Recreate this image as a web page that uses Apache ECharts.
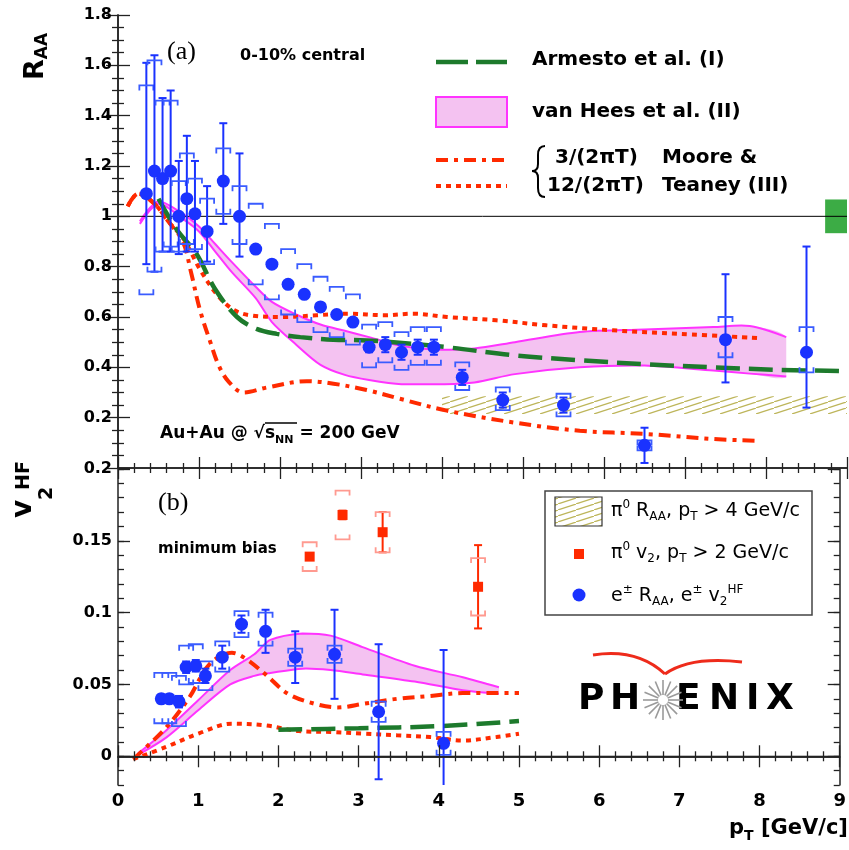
<!DOCTYPE html>
<html lang="en">
<head>
<meta charset="UTF-8">
<title>Heavy flavour electrons: RAA and v2</title>
<style>
  * { margin: 0; padding: 0; }
  #chart-container { width: 849px; height: 850px; background: #fff; }
</style>
</head>
<body>
<div id="chart-container"></div>
<script src="https://cdn.jsdelivr.net/npm/echarts@6.0.0/dist/echarts.min.js"></script>
<script>
// ---- values ----
const xMin = 0, xMax = 9;
const raaMin = 0, raaMax = 1.8;
const v2Min = -0.02, v2Max = 0.2;
const v2Ticks = [0, 0.05, 0.1, 0.15, 0.2];

// (a) heavy flavour electron R_AA, 0-10% central
const raaPt     = [0.35, 0.45, 0.55, 0.65, 0.75, 0.85, 0.95, 1.1, 1.3, 1.5, 1.7, 1.9, 2.1, 2.3, 2.5, 2.7, 2.9, 3.1, 3.3, 3.5, 3.7, 3.9, 4.25, 4.75, 5.5, 6.5, 7.5, 8.5];
const raaVal    = [1.09, 1.18, 1.15, 1.18, 1.00, 1.07, 1.01, 0.94, 1.14, 1.00, 0.87, 0.81, 0.73, 0.69, 0.64, 0.61, 0.58, 0.48, 0.49, 0.46, 0.48, 0.48, 0.36, 0.27, 0.25, 0.09, 0.51, 0.46];
const raaStatUp = [0.52, 0.46, 0.32, 0.32, 0.22, 0.25, 0.21, 0.18, 0.23, 0.25, 0.01, 0.01, 0.01, 0.01, 0.01, 0.01, 0.01, 0.02, 0.03, 0.03, 0.03, 0.03, 0.03, 0.03, 0.03, 0.07, 0.26, 0.42];
const raaStatDn = [0.28, 0.40, 0.29, 0.32, 0.15, 0.21, 0.15, 0.12, 0.17, 0.16, 0.01, 0.01, 0.01, 0.01, 0.01, 0.01, 0.01, 0.02, 0.03, 0.03, 0.03, 0.03, 0.03, 0.03, 0.03, 0.07, 0.17, 0.22];
const raaSysUp  = [0.43, 0.44, 0.31, 0.28, 0.14, 0.18, 0.14, 0.13, 0.13, 0.12, 0.18, 0.16, 0.14, 0.12, 0.12, 0.11, 0.11, 0.09, 0.09, 0.08, 0.08, 0.08, 0.06, 0.05, 0.045, 0.02, 0.09, 0.10];
const raaSysDn  = [0.40, 0.40, 0.29, 0.30, 0.14, 0.18, 0.14, 0.13, 0.13, 0.11, 0.14, 0.14, 0.12, 0.11, 0.10, 0.09, 0.09, 0.08, 0.07, 0.07, 0.07, 0.07, 0.05, 0.04, 0.045, 0.02, 0.07, 0.08];
const raaRef = 1;
const raaNormUnc = 0.067, raaNormPt = 8.73;

// pi0 R_AA band, pT > 4 GeV/c
const pi0RaaPt = [4, 9];
const pi0RaaLo = 0.215, pi0RaaHi = 0.285;

// model curves, R_AA
const armRaaPt = [0.5, 0.72, 0.97, 1.2, 1.47, 1.71, 1.96, 2.25, 2.66, 3.07, 3.4, 4.06, 4.88, 5.7, 6.53, 7.35, 8.17, 9.0];
const armRaa   = [1.07, 0.95, 0.85, 0.71, 0.60, 0.553, 0.533, 0.52, 0.51, 0.507, 0.50, 0.48, 0.448, 0.428, 0.412, 0.40, 0.39, 0.385];
const vhRaaPt  = [0.27, 0.5, 0.8, 1.0, 1.2, 1.4, 1.7, 1.9, 2.2, 2.5, 2.8, 3.1, 3.5, 4.0, 4.4, 4.9, 5.7, 6.5, 7.35, 7.8, 8.25];
const vhRaaHi  = [0.98, 1.06, 1.01, 0.96, 0.89, 0.82, 0.72, 0.66, 0.61, 0.57, 0.545, 0.52, 0.485, 0.47, 0.475, 0.50, 0.54, 0.55, 0.56, 0.564, 0.52];
const vhRaaLo  = [0.97, 1.05, 0.99, 0.94, 0.86, 0.78, 0.675, 0.58, 0.49, 0.41, 0.37, 0.35, 0.333, 0.333, 0.34, 0.373, 0.40, 0.407, 0.387, 0.375, 0.364];
const mt3RaaPt = [0.12, 0.25, 0.45, 0.62, 0.8, 0.9, 1.01, 1.14, 1.24, 1.36, 1.55, 1.84, 2.33, 2.66, 3.07, 3.48, 4.06, 4.88, 5.7, 6.53, 7.35, 7.93];
const mt3Raa   = [1.04, 1.09, 1.05, 0.98, 0.90, 0.78, 0.63, 0.50, 0.41, 0.345, 0.30, 0.32, 0.345, 0.335, 0.31, 0.275, 0.228, 0.181, 0.148, 0.135, 0.115, 0.108];
const mt12RaaPt = [0.12, 0.25, 0.45, 0.62, 0.81, 1.01, 1.22, 1.42, 1.63, 2.04, 2.45, 2.86, 3.28, 3.64, 4.06, 4.67, 5.29, 6.11, 6.94, 7.93];
const mt12Raa   = [1.04, 1.09, 1.05, 0.98, 0.91, 0.79, 0.69, 0.63, 0.607, 0.60, 0.607, 0.613, 0.607, 0.613, 0.60, 0.587, 0.567, 0.547, 0.533, 0.516];

// (b) heavy flavour electron v2, minimum bias
const v2Pt    = [0.54, 0.64, 0.76, 0.85, 0.97, 1.09, 1.30, 1.54, 1.84, 2.21, 2.70, 3.25, 4.06];
const v2Val   = [0.040, 0.040, 0.038, 0.062, 0.063, 0.056, 0.069, 0.092, 0.087, 0.069, 0.071, 0.031, 0.009];
const v2Stat  = [0.003, 0.003, 0.004, 0.004, 0.004, 0.005, 0.008, 0.006, 0.015, 0.018, 0.031, 0.047, 0.065];
const v2SysUp = [0.018, 0.018, 0.018, 0.015, 0.015, 0.010, 0.011, 0.009, 0.013, 0.006, 0.006, 0.007, 0.008];
const v2SysDn = [0.017, 0.017, 0.017, 0.012, 0.012, 0.010, 0.010, 0.009, 0.010, 0.006, 0.006, 0.007, 0.008];
const v2Ref = 0;

// pi0 v2, pT > 2 GeV/c
const pi0V2Pt   = [2.39, 2.80, 3.30, 4.49];
const pi0V2Val  = [0.139, 0.168, 0.156, 0.118];
const pi0V2Stat = [0.002, 0.003, 0.014, 0.029];
const pi0V2Sys  = [0.010, 0.017, 0.014, 0.020];

// model curves, v2
const armV2Pt = [2.0, 3.0, 4.0, 5.0];
const armV2   = [0.0185, 0.0195, 0.021, 0.0245];
const vhV2Pt  = [0.25, 0.6, 1.0, 1.4, 1.7, 1.9, 2.3, 2.65, 3.05, 3.7, 4.3, 4.75];
const vhV2Hi  = [0.002, 0.018, 0.039, 0.060, 0.071, 0.081, 0.0855, 0.084, 0.076, 0.063, 0.055, 0.048];
const vhV2Lo  = [0.001, 0.013, 0.032, 0.050, 0.056, 0.058, 0.061, 0.060, 0.057, 0.052, 0.046, 0.0435];
const mt3V2Pt = [0.19, 0.6, 0.89, 1.14, 1.42, 1.59, 1.84, 2.12, 2.45, 2.74, 3.07, 3.48, 3.89, 4.3, 5.0];
const mt3V2   = [-0.002, 0.020, 0.041, 0.064, 0.072, 0.068, 0.057, 0.0435, 0.0366, 0.034, 0.0366, 0.040, 0.042, 0.044, 0.044];
const mt12V2Pt = [0.19, 0.6, 1.01, 1.42, 1.84, 2.25, 2.66, 3.07, 3.48, 3.89, 4.3, 4.72, 5.0];
const mt12V2   = [-0.002, 0.0065, 0.016, 0.0227, 0.0215, 0.0176, 0.0169, 0.0157, 0.0146, 0.0134, 0.011, 0.0134, 0.0157];

// ---- styles ----
const SANS = 'DejaVu Sans';
const BLUE = '#1a32ff', BLUE_SYS = '#3a5cff';
const RED = '#ff2a00', RED_SYS = '#ff9a90';
const GREEN = '#1d7a2c', MAGENTA = '#ff33ff', PINK = '#f4c2f1';
const FRAME = '#222';
const DASH_ARM = [24, 9], DASH_DOTDASH = [12, 6, 4, 6], DASH_DOT = [5, 5];

// diagonal hatch used for the pi0 R_AA band
const hatch = document.createElement('canvas');
hatch.width = 18; hatch.height = 6;
(function () {
  const c = hatch.getContext('2d');
  c.strokeStyle = '#bdb55a';
  c.lineWidth = 1.2;
  c.beginPath();
  c.moveTo(-18, 12); c.lineTo(36, -6);
  c.stroke();
})();
const hatchFill = { image: hatch, repeat: 'repeat' };

const pairs = (xs, ys) => xs.map((x, i) => [x, ys[i]]);

function errorRender(color, sysColor) {
  return function (params, api) {
    const x = api.value(0), y = api.value(1);
    const p = api.coord([x, y]);
    const tu = api.coord([x, y + api.value(2)])[1];
    const td = api.coord([x, y - api.value(3)])[1];
    const su = api.coord([x, y + api.value(4)])[1];
    const sd = api.coord([x, y - api.value(5)])[1];
    const cx = p[0], cap = 4, bw = 7, leg = 5;
    const st = { stroke: color, lineWidth: 2 };
    const ss = { stroke: sysColor, lineWidth: 1.8, fill: null };
    return {
      type: 'group',
      children: [
        { type: 'line', shape: { x1: cx, y1: tu, x2: cx, y2: td }, style: st },
        { type: 'line', shape: { x1: cx - cap, y1: tu, x2: cx + cap, y2: tu }, style: st },
        { type: 'line', shape: { x1: cx - cap, y1: td, x2: cx + cap, y2: td }, style: st },
        { type: 'polyline', shape: { points: [[cx - bw, su + leg], [cx - bw, su], [cx + bw, su], [cx + bw, su + leg]] }, style: ss },
        { type: 'polyline', shape: { points: [[cx - bw, sd - leg], [cx - bw, sd], [cx + bw, sd], [cx + bw, sd - leg]] }, style: ss }
      ]
    };
  };
}

function boxRender(fill) {
  return function (params, api) {
    const a = api.coord([api.value(0), api.value(3)]);
    const b = api.coord([api.value(1), api.value(2)]);
    return {
      type: 'rect',
      shape: { x: a[0], y: a[1], width: b[0] - a[0], height: b[1] - a[1] },
      style: { fill: fill }
    };
  };
}

// van Hees band: one filled polygon plus its two edges, built on the first item
function bandRender(params, api) {
  if (params.dataIndexInside !== 0) return;
  const n = params.dataInsideLength;
  const lo = [], hi = [];
  for (let i = 0; i < n; i++) {
    lo.push(api.coord([api.value(0, i), api.value(1, i)]));
    hi.push(api.coord([api.value(0, i), api.value(2, i)]));
  }
  const all = hi.concat(lo);
  const box = [
    [Math.min(...all.map(p => p[0])), Math.min(...all.map(p => p[1]))],
    [Math.max(...all.map(p => p[0])), Math.max(...all.map(p => p[1]))]
  ];
  const edge = { stroke: MAGENTA, lineWidth: 2, fill: null };
  return {
    type: 'group',
    children: [
      { type: 'polygon', shape: { points: hi.concat(lo.slice().reverse()), smooth: 0.3, smoothConstraint: box }, style: { fill: PINK } },
      { type: 'polyline', shape: { points: hi, smooth: 0.3, smoothConstraint: box }, style: edge },
      { type: 'polyline', shape: { points: lo, smooth: 0.3, smoothConstraint: box }, style: edge }
    ]
  };
}
function band(g, xs, lo, hi) {
  return {
    type: 'custom', xAxisIndex: g * 2, yAxisIndex: g === 0 ? 0 : 2, z: 3, silent: true, clip: true,
    encode: { x: 0, y: [1, 2] }, renderItem: bandRender,
    data: xs.map((x, i) => [x, lo[i], hi[i]])
  };
}

function curve(g, xs, ys, color, dash, width) {
  return {
    type: 'line', xAxisIndex: g * 2, yAxisIndex: g === 0 ? 0 : 2,
    data: pairs(xs, ys), symbol: 'none', smooth: 0.35, z: 4, silent: true,
    lineStyle: { color: color, type: dash, width: width, cap: 'butt' }
  };
}

// ---- axes ----
const tickStyle = { color: FRAME, width: 1.3 };
function xAx(g, pos, labels) {
  return {
    type: 'value', gridIndex: g, position: pos, min: xMin, max: xMax, interval: 1, z: 10,
    axisLine: { lineStyle: { color: FRAME, width: 1.5 } },
    axisTick: { inside: true, length: 11, lineStyle: tickStyle },
    minorTick: { show: true, splitNumber: 5, length: 5, lineStyle: tickStyle },
    splitLine: { show: false },
    axisLabel: labels ? { margin: 7, fontFamily: SANS, fontWeight: 'bold', fontSize: 18, color: '#000' } : { show: false }
  };
}
const yAxes = [
  {
    type: 'value', gridIndex: 0, position: 'left', min: raaMin, max: raaMax, interval: 0.2, z: 10,
    axisLine: { lineStyle: { color: FRAME, width: 1.5 } },
    axisTick: { inside: true, length: 12, lineStyle: tickStyle },
    minorTick: { show: true, splitNumber: 4, length: 6, lineStyle: tickStyle },
    splitLine: { show: false },
    axisLabel: { margin: 6, fontFamily: SANS, fontWeight: 'bold', fontSize: 16, color: '#000',
      formatter: v => (v === 0 ? '' : String(+v.toFixed(2))) }
  },
  {
    type: 'value', gridIndex: 0, position: 'right', min: raaMin, max: raaMax, interval: 0.2, z: 10,
    axisLine: { lineStyle: { color: FRAME, width: 1.5 } },
    axisTick: { inside: true, length: 12, lineStyle: tickStyle },
    minorTick: { show: true, splitNumber: 4, length: 6, lineStyle: tickStyle },
    splitLine: { show: false }, axisLabel: { show: false }
  },
  {
    type: 'value', gridIndex: 1, position: 'left', min: v2Min, max: v2Max, interval: 0.01, z: 10,
    axisLine: { lineStyle: { color: FRAME, width: 1.5 } },
    axisTick: { inside: true, length: 6, lineStyle: tickStyle },
    splitLine: { show: false }, axisLabel: { show: false }
  },
  {
    type: 'value', gridIndex: 1, position: 'left', min: v2Min, max: v2Max, z: 10,
    axisLine: { show: false },
    axisTick: { inside: true, length: 12, lineStyle: tickStyle, customValues: v2Ticks },
    splitLine: { show: false },
    axisLabel: { margin: 6, fontFamily: SANS, fontWeight: 'bold', fontSize: 16, color: '#000', customValues: v2Ticks }
  },
  {
    type: 'value', gridIndex: 1, position: 'right', min: v2Min, max: v2Max, interval: 0.01, z: 10,
    axisLine: { lineStyle: { color: FRAME, width: 1.5 } },
    axisTick: { inside: true, length: 6, lineStyle: tickStyle },
    splitLine: { show: false }, axisLabel: { show: false }
  },
  {
    type: 'value', gridIndex: 1, position: 'right', min: v2Min, max: v2Max, z: 10,
    axisLine: { show: false },
    axisTick: { inside: true, length: 12, lineStyle: tickStyle, customValues: v2Ticks },
    splitLine: { show: false }, axisLabel: { show: false }
  }
];

// ---- graphic: legends, labels, logo ----
function txt(x, y, text, size, opts) {
  return {
    type: 'text', x: x, y: y, z: 20,
    style: Object.assign({
      text: text, fill: '#000', fontFamily: SANS, fontSize: size, fontWeight: 'bold',
      align: 'left', verticalAlign: 'middle', textAlign: 'left', textVerticalAlign: 'middle'
    }, opts || {})
  };
}
function rot(el) { el.rotation = Math.PI / 2; return el; }
function seg(x1, y1, x2, y2, stroke, width, dash) {
  return { type: 'line', z: 20, shape: { x1, y1, x2, y2 }, style: { stroke, lineWidth: width, lineDash: dash || null } };
}
function quad(x1, y1, cx, cy, x2, y2, stroke, width) {
  return { type: 'bezierCurve', z: 20, shape: { x1, y1, cpx1: cx, cpy1: cy, x2, y2 }, style: { stroke, lineWidth: width, fill: null } };
}
const subSup = (size, weight) => ({
  sub: { fontFamily: SANS, fontWeight: weight, fontSize: size, lineHeight: size, verticalAlign: 'bottom' },
  sup: { fontFamily: SANS, fontWeight: weight, fontSize: size, lineHeight: size, verticalAlign: 'top' }
});

const graphics = [
  // panel labels
  txt(167, 52, '(a)', 26, { fontFamily: 'Liberation Serif', fontWeight: 'normal' }),
  txt(240, 56, '0-10% central', 16),
  txt(160, 434, 'Au+Au @ √s{sub|NN} = 200 GeV', 17, { lineHeight: 24, rich: subSup(11, 'bold') }),
  seg(265, 423, 297, 423, '#000', 1.5),
  txt(158, 503, '(b)', 26, { fontFamily: 'Liberation Serif', fontWeight: 'normal' }),
  txt(158, 549, 'minimum bias', 15),

  // legend (a)
  seg(436, 62, 507, 62, GREEN, 4.5, [32, 8]),
  txt(532, 60, 'Armesto et al. (I)', 20),
  { type: 'rect', z: 20, shape: { x: 436, y: 97, width: 71, height: 30 }, style: { fill: PINK, stroke: MAGENTA, lineWidth: 2 } },
  txt(532, 112, 'van Hees et al. (II)', 20),
  seg(436, 160, 507, 160, RED, 4, DASH_DOTDASH),
  seg(436, 186, 507, 186, RED, 4, DASH_DOT),
  quad(545, 146, 538, 146, 538, 155, '#000', 2),
  seg(538, 155, 538, 164, '#000', 2),
  quad(538, 164, 538, 171, 532, 171, '#000', 2),
  quad(532, 171, 538, 171, 538, 178, '#000', 2),
  seg(538, 178, 538, 188, '#000', 2),
  quad(538, 188, 538, 197, 545, 197, '#000', 2),
  txt(555, 158, '3/(2πT)', 20),
  txt(547, 186, '12/(2πT)', 20),
  txt(662, 158, 'Moore &', 20),
  txt(662, 186, 'Teaney (III)', 20),

  // legend (b)
  { type: 'rect', z: 20, shape: { x: 545, y: 491, width: 267, height: 124 }, style: { fill: '#fff', stroke: '#444', lineWidth: 1.5 } },
  { type: 'rect', z: 21, shape: { x: 555, y: 497, width: 47, height: 29 }, style: { fill: hatchFill, stroke: '#333', lineWidth: 1.2 } },
  txt(611, 511, 'π{sup|0} R{sub|AA}, p{sub|T} > 4 GeV/c', 19, { fontWeight: 'normal', lineHeight: 24, rich: subSup(12, 'normal') }),
  { type: 'rect', z: 21, shape: { x: 574, y: 549, width: 10, height: 10 }, style: { fill: RED } },
  txt(611, 553, 'π{sup|0} v{sub|2}, p{sub|T} > 2 GeV/c', 19, { fontWeight: 'normal', lineHeight: 24, rich: subSup(12, 'normal') }),
  { type: 'circle', z: 21, shape: { cx: 579, cy: 595, r: 6.5 }, style: { fill: BLUE } },
  txt(611, 596, 'e{sup|±} R{sub|AA}, e{sup|±} v{sub|2}{sup|HF}', 19, { fontWeight: 'normal', lineHeight: 24, rich: subSup(12, 'normal') }),

  // axis titles
  rot(txt(36, 80, 'R{sub|AA}', 27, { lineHeight: 30, rich: subSup(17, 'bold') })),
  txt(729, 829, 'p{sub|T} [GeV/c]', 21, { lineHeight: 28, rich: subSup(14, 'bold') }),
  rot(txt(24, 518, 'v', 28)),
  rot(txt(47, 500, '2', 19)),
  rot(txt(24, 490, 'HF', 19)),

  // PHENIX logo
  quad(593, 655, 637, 648, 665, 674, '#ee2b1b', 3),
  quad(665, 674, 690, 656, 742, 662, '#ee2b1b', 3),
  txt(578, 700, 'P', 36),
  txt(610, 700, 'H', 36),
  txt(676, 700, 'E', 36),
  txt(709, 700, 'N', 36),
  txt(746, 700, 'I', 36),
  txt(766, 700, 'X', 36)
];
for (let a = 0; a < 16; a++) {
  const t = a * Math.PI / 8;
  graphics.push(seg(663 + 5 * Math.cos(t), 700 + 5 * Math.sin(t), 663 + 20 * Math.cos(t), 700 + 20 * Math.sin(t), '#9a9a9a', 1.6));
}

// ---- chart ----
const myChart = echarts.init(document.getElementById('chart-container'), null, { renderer: 'canvas' });

const option = {
  animation: false,
  backgroundColor: '#fff',
  grid: [
    { left: 118, right: 2, top: 15, height: 453 },
    { left: 118, right: 2, top: 469, height: 316 }
  ],
  xAxis: [xAx(0, 'bottom', false), xAx(0, 'top', false), xAx(1, 'bottom', true), xAx(1, 'top', false)],
  yAxis: yAxes,
  series: [
    band(0, vhRaaPt, vhRaaLo, vhRaaHi),
    band(1, vhV2Pt, vhV2Lo, vhV2Hi),
    // pi0 R_AA hatched band and normalisation box
    { type: 'custom', xAxisIndex: 0, yAxisIndex: 0, z: 3, silent: true, clip: true,
      renderItem: boxRender(hatchFill), data: [[pi0RaaPt[0], pi0RaaPt[1], pi0RaaLo, pi0RaaHi]] },
    { type: 'custom', xAxisIndex: 0, yAxisIndex: 0, z: 3, silent: true, clip: true,
      renderItem: boxRender('#3cac45'), data: [[raaNormPt, xMax, raaRef - raaNormUnc, raaRef + raaNormUnc]] },
    // reference lines
    { type: 'line', xAxisIndex: 0, yAxisIndex: 0, z: 3, symbol: 'none', silent: true, data: [[xMin, raaRef], [xMax, raaRef]],
      lineStyle: { color: '#000', width: 1 } },
    { type: 'line', xAxisIndex: 2, yAxisIndex: 2, z: 3, symbol: 'none', silent: true, data: [[xMin, v2Ref], [xMax, v2Ref]],
      lineStyle: { color: '#000', width: 1.2 } },
    // model curves
    curve(0, mt3RaaPt, mt3Raa, RED, DASH_DOTDASH, 4),
    curve(0, mt12RaaPt, mt12Raa, RED, DASH_DOT, 4),
    curve(1, mt3V2Pt, mt3V2, RED, DASH_DOTDASH, 4),
    curve(1, mt12V2Pt, mt12V2, RED, DASH_DOT, 4),
    curve(0, armRaaPt, armRaa, GREEN, DASH_ARM, 4.5),
    curve(1, armV2Pt, armV2, GREEN, DASH_ARM, 4.5),
    // error bars
    { type: 'custom', xAxisIndex: 0, yAxisIndex: 0, z: 5, silent: true, clip: true,
      renderItem: errorRender(BLUE, BLUE_SYS),
      data: raaPt.map((x, i) => [x, raaVal[i], raaStatUp[i], raaStatDn[i], raaSysUp[i], raaSysDn[i]]) },
    { type: 'custom', xAxisIndex: 2, yAxisIndex: 2, z: 5, silent: true, clip: true,
      renderItem: errorRender(BLUE, BLUE_SYS),
      data: v2Pt.map((x, i) => [x, v2Val[i], v2Stat[i], v2Stat[i], v2SysUp[i], v2SysDn[i]]) },
    { type: 'custom', xAxisIndex: 2, yAxisIndex: 2, z: 5, silent: true, clip: true,
      renderItem: errorRender(RED, RED_SYS),
      data: pi0V2Pt.map((x, i) => [x, pi0V2Val[i], pi0V2Stat[i], pi0V2Stat[i], pi0V2Sys[i], pi0V2Sys[i]]) },
    // markers
    { type: 'scatter', xAxisIndex: 0, yAxisIndex: 0, z: 6, symbol: 'circle', symbolSize: 13, silent: true,
      itemStyle: { color: BLUE, opacity: 1 }, data: pairs(raaPt, raaVal) },
    { type: 'scatter', xAxisIndex: 2, yAxisIndex: 2, z: 6, symbol: 'circle', symbolSize: 13, silent: true,
      itemStyle: { color: BLUE, opacity: 1 }, data: pairs(v2Pt, v2Val) },
    { type: 'scatter', xAxisIndex: 2, yAxisIndex: 2, z: 6, symbol: 'rect', symbolSize: 10, silent: true,
      itemStyle: { color: RED, opacity: 1 }, data: pairs(pi0V2Pt, pi0V2Val) }
  ],
  graphic: { elements: graphics }
};

myChart.setOption(option);
window.addEventListener('resize', myChart.resize);
</script>
</body>
</html>
